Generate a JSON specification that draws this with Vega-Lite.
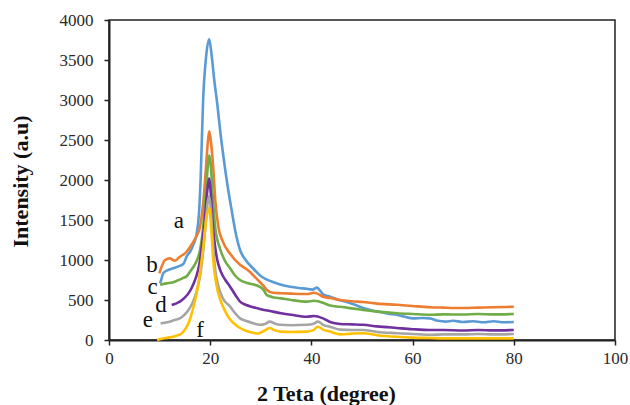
{
  "$schema": "https://vega.github.io/schema/vega-lite/v6.json",
  "width": 506,
  "height": 320,
  "autosize": {"type": "none"},
  "padding": {"left": 109, "top": 20, "right": 15, "bottom": 65},
  "background": "white",
  "config": {
    "view": {"stroke": "#222", "strokeWidth": 1.5},
    "axis": {
      "grid": false,
      "domainColor": "#222",
      "domainWidth": 2,
      "tickColor": "#222",
      "tickWidth": 1.5,
      "tickSize": 5,
      "labelFont": "Liberation Serif",
      "titleFont": "Liberation Serif"
    }
  },
  "datasets": {
    "curves": [
      {"s":"a","x":10.1,"y":708},{"s":"a","x":10.4,"y":770},{"s":"a","x":10.7,"y":833},{"s":"a","x":11.5,"y":870},{"s":"a","x":12.7,"y":896},{"s":"a","x":13.7,"y":920},{"s":"a","x":14.7,"y":950},{"s":"a","x":15.4,"y":1050},{"s":"a","x":16,"y":1100},{"s":"a","x":16.6,"y":1180},{"s":"a","x":17.3,"y":1320},{"s":"a","x":17.8,"y":1600},{"s":"a","x":18.1,"y":2000},{"s":"a","x":18.6,"y":3000},{"s":"a","x":19.2,"y":3550},{"s":"a","x":19.8,"y":3760},{"s":"a","x":20.3,"y":3550},{"s":"a","x":20.8,"y":3250},{"s":"a","x":21.4,"y":2950},{"s":"a","x":22,"y":2600},{"s":"a","x":22.6,"y":2300},{"s":"a","x":23.5,"y":1900},{"s":"a","x":24.3,"y":1600},{"s":"a","x":25,"y":1350},{"s":"a","x":25.9,"y":1125},{"s":"a","x":27,"y":1000},{"s":"a","x":28.4,"y":900},{"s":"a","x":29.8,"y":810},{"s":"a","x":31,"y":760},{"s":"a","x":32.4,"y":725},{"s":"a","x":34,"y":690},{"s":"a","x":35.8,"y":665},{"s":"a","x":37.5,"y":650},{"s":"a","x":39.1,"y":640},{"s":"a","x":40.2,"y":630},{"s":"a","x":41.1,"y":655},{"s":"a","x":41.8,"y":610},{"s":"a","x":42.3,"y":570},{"s":"a","x":43.7,"y":540},{"s":"a","x":45,"y":510},{"s":"a","x":47,"y":475},{"s":"a","x":48.6,"y":440},{"s":"a","x":50.2,"y":400},{"s":"a","x":52,"y":370},{"s":"a","x":53.6,"y":350},{"s":"a","x":55.2,"y":330},{"s":"a","x":56.9,"y":315},{"s":"a","x":58.5,"y":290},{"s":"a","x":60.1,"y":270},{"s":"a","x":62,"y":275},{"s":"a","x":63.4,"y":270},{"s":"a","x":65,"y":240},{"s":"a","x":66.5,"y":230},{"s":"a","x":68,"y":240},{"s":"a","x":70,"y":225},{"s":"a","x":72,"y":235},{"s":"a","x":74,"y":222},{"s":"a","x":76,"y":235},{"s":"a","x":78,"y":222},{"s":"a","x":80,"y":225},

      {"s":"b","x":9.95,"y":833},{"s":"b","x":10.4,"y":917},{"s":"b","x":11.1,"y":1000},{"s":"b","x":12,"y":1020},{"s":"b","x":13,"y":990},{"s":"b","x":14,"y":1040},{"s":"b","x":15.3,"y":1100},{"s":"b","x":16.4,"y":1200},{"s":"b","x":17.3,"y":1300},{"s":"b","x":18,"y":1420},{"s":"b","x":18.6,"y":1700},{"s":"b","x":19.1,"y":2100},{"s":"b","x":19.5,"y":2450},{"s":"b","x":19.8,"y":2610},{"s":"b","x":20.1,"y":2500},{"s":"b","x":20.55,"y":2200},{"s":"b","x":21,"y":1750},{"s":"b","x":21.6,"y":1420},{"s":"b","x":22.5,"y":1230},{"s":"b","x":23.9,"y":1080},{"s":"b","x":25.9,"y":940},{"s":"b","x":27.3,"y":880},{"s":"b","x":28.5,"y":810},{"s":"b","x":29.8,"y":725},{"s":"b","x":30.5,"y":680},{"s":"b","x":31.2,"y":625},{"s":"b","x":32.4,"y":590},{"s":"b","x":34,"y":585},{"s":"b","x":36,"y":580},{"s":"b","x":39.1,"y":575},{"s":"b","x":40.5,"y":590},{"s":"b","x":41.2,"y":580},{"s":"b","x":42.3,"y":540},{"s":"b","x":43.7,"y":525},{"s":"b","x":45.7,"y":500},{"s":"b","x":48,"y":485},{"s":"b","x":50.2,"y":475},{"s":"b","x":53,"y":455},{"s":"b","x":56.9,"y":440},{"s":"b","x":60,"y":425},{"s":"b","x":63.4,"y":410},{"s":"b","x":66,"y":405},{"s":"b","x":70,"y":400},{"s":"b","x":73,"y":405},{"s":"b","x":76,"y":410},{"s":"b","x":80,"y":415},

      {"s":"c","x":10.1,"y":690},{"s":"c","x":11.4,"y":708},{"s":"c","x":12.5,"y":720},{"s":"c","x":13.4,"y":740},{"s":"c","x":14.5,"y":770},{"s":"c","x":15.4,"y":800},{"s":"c","x":16.3,"y":880},{"s":"c","x":16.7,"y":916},{"s":"c","x":17.4,"y":1000},{"s":"c","x":18,"y":1125},{"s":"c","x":18.6,"y":1400},{"s":"c","x":19.1,"y":1800},{"s":"c","x":19.5,"y":2150},{"s":"c","x":19.8,"y":2310},{"s":"c","x":20.1,"y":2200},{"s":"c","x":20.5,"y":1800},{"s":"c","x":21,"y":1400},{"s":"c","x":21.9,"y":1150},{"s":"c","x":23,"y":980},{"s":"c","x":23.9,"y":900},{"s":"c","x":25,"y":800},{"s":"c","x":25.9,"y":750},{"s":"c","x":27.5,"y":710},{"s":"c","x":29.8,"y":665},{"s":"c","x":30.5,"y":630},{"s":"c","x":31.2,"y":560},{"s":"c","x":32.4,"y":535},{"s":"c","x":34,"y":520},{"s":"c","x":36,"y":500},{"s":"c","x":39.1,"y":480},{"s":"c","x":40.5,"y":490},{"s":"c","x":41.3,"y":485},{"s":"c","x":42.3,"y":465},{"s":"c","x":43.7,"y":430},{"s":"c","x":45.7,"y":415},{"s":"c","x":48,"y":395},{"s":"c","x":50.2,"y":375},{"s":"c","x":53,"y":355},{"s":"c","x":56.9,"y":335},{"s":"c","x":60,"y":325},{"s":"c","x":63.4,"y":315},{"s":"c","x":66,"y":320},{"s":"c","x":70,"y":318},{"s":"c","x":73,"y":325},{"s":"c","x":76,"y":320},{"s":"c","x":80,"y":325},

      {"s":"d","x":12.4,"y":437},{"s":"d","x":13.2,"y":455},{"s":"d","x":14,"y":479},{"s":"d","x":14.8,"y":520},{"s":"d","x":15.7,"y":583},{"s":"d","x":16.4,"y":660},{"s":"d","x":17,"y":750},{"s":"d","x":17.6,"y":870},{"s":"d","x":18,"y":1000},{"s":"d","x":18.5,"y":1250},{"s":"d","x":19,"y":1550},{"s":"d","x":19.4,"y":1850},{"s":"d","x":19.8,"y":2020},{"s":"d","x":20.1,"y":1850},{"s":"d","x":20.5,"y":1450},{"s":"d","x":21,"y":1150},{"s":"d","x":21.4,"y":1000},{"s":"d","x":22,"y":870},{"s":"d","x":23,"y":750},{"s":"d","x":23.9,"y":670},{"s":"d","x":25,"y":560},{"s":"d","x":25.9,"y":480},{"s":"d","x":27,"y":440},{"s":"d","x":28.5,"y":410},{"s":"d","x":30,"y":385},{"s":"d","x":32.4,"y":355},{"s":"d","x":34,"y":335},{"s":"d","x":36,"y":315},{"s":"d","x":39.1,"y":290},{"s":"d","x":40.5,"y":300},{"s":"d","x":42.3,"y":270},{"s":"d","x":43.7,"y":225},{"s":"d","x":45.7,"y":200},{"s":"d","x":48,"y":195},{"s":"d","x":50.2,"y":190},{"s":"d","x":53,"y":170},{"s":"d","x":56.9,"y":150},{"s":"d","x":60,"y":135},{"s":"d","x":63.4,"y":125},{"s":"d","x":66,"y":125},{"s":"d","x":70,"y":118},{"s":"d","x":73,"y":125},{"s":"d","x":76,"y":120},{"s":"d","x":80,"y":125},

      {"s":"e","x":10.2,"y":208},{"s":"e","x":11,"y":215},{"s":"e","x":12,"y":229},{"s":"e","x":13,"y":250},{"s":"e","x":14,"y":271},{"s":"e","x":15,"y":320},{"s":"e","x":15.7,"y":375},{"s":"e","x":16.4,"y":450},{"s":"e","x":17,"y":541},{"s":"e","x":17.6,"y":680},{"s":"e","x":18,"y":800},{"s":"e","x":18.6,"y":1100},{"s":"e","x":19.1,"y":1450},{"s":"e","x":19.5,"y":1720},{"s":"e","x":19.8,"y":1800},{"s":"e","x":20.1,"y":1650},{"s":"e","x":20.5,"y":1250},{"s":"e","x":21,"y":870},{"s":"e","x":21.5,"y":700},{"s":"e","x":22.5,"y":520},{"s":"e","x":23.9,"y":420},{"s":"e","x":25,"y":330},{"s":"e","x":25.9,"y":270},{"s":"e","x":27,"y":240},{"s":"e","x":28.5,"y":210},{"s":"e","x":29.8,"y":190},{"s":"e","x":30.8,"y":200},{"s":"e","x":31.8,"y":230},{"s":"e","x":32.8,"y":205},{"s":"e","x":33.8,"y":190},{"s":"e","x":36,"y":185},{"s":"e","x":39.1,"y":190},{"s":"e","x":40.3,"y":200},{"s":"e","x":41.3,"y":230},{"s":"e","x":42.3,"y":190},{"s":"e","x":43.7,"y":165},{"s":"e","x":45.7,"y":130},{"s":"e","x":48,"y":125},{"s":"e","x":50.2,"y":125},{"s":"e","x":53,"y":100},{"s":"e","x":56.9,"y":85},{"s":"e","x":60,"y":75},{"s":"e","x":63.4,"y":65},{"s":"e","x":66,"y":70},{"s":"e","x":70,"y":70},{"s":"e","x":73,"y":75},{"s":"e","x":76,"y":70},{"s":"e","x":80,"y":75},

      {"s":"f","x":9.5,"y":0},{"s":"f","x":10.7,"y":20},{"s":"f","x":11.7,"y":30},{"s":"f","x":12.7,"y":42},{"s":"f","x":13.6,"y":60},{"s":"f","x":14.4,"y":83},{"s":"f","x":15,"y":130},{"s":"f","x":15.7,"y":208},{"s":"f","x":16.2,"y":300},{"s":"f","x":16.7,"y":416},{"s":"f","x":17.1,"y":520},{"s":"f","x":17.5,"y":650},{"s":"f","x":18,"y":850},{"s":"f","x":18.6,"y":1150},{"s":"f","x":19.2,"y":1500},{"s":"f","x":19.8,"y":1650},{"s":"f","x":20.2,"y":1400},{"s":"f","x":20.6,"y":1000},{"s":"f","x":21.2,"y":700},{"s":"f","x":21.9,"y":520},{"s":"f","x":22.8,"y":380},{"s":"f","x":23.9,"y":260},{"s":"f","x":25,"y":190},{"s":"f","x":25.9,"y":150},{"s":"f","x":27.3,"y":110},{"s":"f","x":28.5,"y":90},{"s":"f","x":29.4,"y":80},{"s":"f","x":30.5,"y":110},{"s":"f","x":31.8,"y":150},{"s":"f","x":32.8,"y":120},{"s":"f","x":33.8,"y":105},{"s":"f","x":36,"y":100},{"s":"f","x":39.1,"y":105},{"s":"f","x":40.3,"y":120},{"s":"f","x":41.3,"y":165},{"s":"f","x":42.3,"y":130},{"s":"f","x":43.7,"y":105},{"s":"f","x":45.7,"y":70},{"s":"f","x":48,"y":80},{"s":"f","x":50.2,"y":85},{"s":"f","x":53,"y":60},{"s":"f","x":56.9,"y":40},{"s":"f","x":60,"y":30},{"s":"f","x":63.4,"y":25},{"s":"f","x":66,"y":20},{"s":"f","x":70,"y":20},{"s":"f","x":75,"y":20},{"s":"f","x":80,"y":20}
    ],
    "labels": [
      {"t":"a","x":13.8,"y":1400},
      {"t":"b","x":8.5,"y":850},
      {"t":"c","x":8.6,"y":580},
      {"t":"d","x":10.3,"y":350},
      {"t":"e","x":7.7,"y":162},
      {"t":"f","x":18,"y":37}
    ]
  },
  "encoding": {
    "x": {
      "field": "x", "type": "quantitative",
      "scale": {"domain": [0, 100], "nice": false},
      "axis": {"values": [0, 20, 40, 60, 80, 100], "format": "d", "title": "2 Teta (degree)",
        "labelFont": "Liberation Serif", "labelFontSize": 17, "labelColor": "#2a2a2a", "labelPadding": 5,
        "labelOverlap": false, "labelFlush": false,
        "titleFont": "Liberation Serif", "titleFontSize": 22, "titleFontWeight": "bold", "titleColor": "#111",
        "titleX": 217, "titleY": 60, "titleBaseline": "alphabetic"}
    },
    "y": {
      "field": "y", "type": "quantitative",
      "scale": {"domain": [0, 4000], "nice": false},
      "axis": {"values": [0, 500, 1000, 1500, 2000, 2500, 3000, 3500, 4000], "format": "d", "title": "Intensity (a.u)",
        "labelFont": "Liberation Serif", "labelFontSize": 17, "labelColor": "#2a2a2a", "labelPadding": 11,
        "labelOverlap": false, "labelFlush": false,
        "titleFont": "Liberation Serif", "titleFontSize": 22, "titleFontWeight": "bold", "titleColor": "#111",
        "titleX": -82, "titleY": 161, "titleBaseline": "alphabetic", "titleAngle": -90}
    }
  },
  "layer": [
    {
      "data": {"name": "curves"},
      "mark": {"type": "line", "strokeWidth": 2.6, "interpolate": "monotone"},
      "encoding": {
        "color": {
          "field": "s", "type": "nominal",
          "scale": {"domain": ["a","b","c","d","e","f"], "range": ["#5B9BD5","#ED7D31","#70AD47","#7030A0","#A5A5A5","#FFC000"]},
          "legend": null
        }
      }
    },
    {
      "data": {"name": "labels"},
      "mark": {"type": "text", "font": "Liberation Serif", "fontSize": 23, "baseline": "alphabetic", "align": "center", "color": "#111"},
      "encoding": {
        "text": {"field": "t"}
      }
    }
  ]
}
